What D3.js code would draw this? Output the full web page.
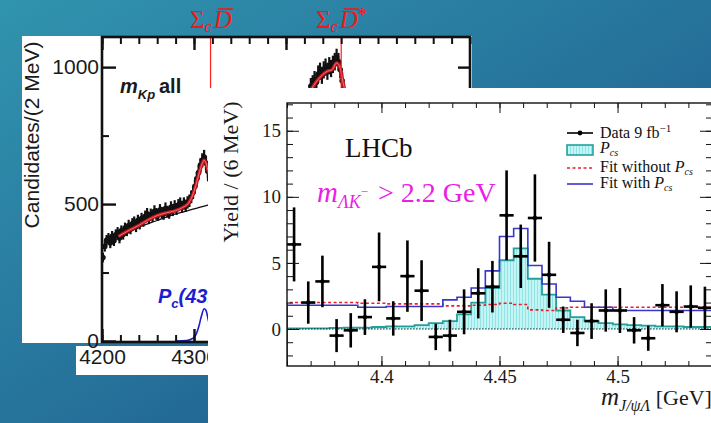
<!DOCTYPE html>
<html>
<head>
<meta charset="utf-8">
<script src="https://cdn.jsdelivr.net/npm/d3@7"></script>
<style>
  body { margin: 0; overflow: hidden; }
  svg { display: block; }
</style>
</head>
<body>
<div id="vis"></div>
<script>
var width = 711
var height = 423

// ---- back figure: m_Kp spectrum, 2 MeV bins ----
var kpMass = d3.range(4201, 4320, 2)
var kpCounts = [305, 345, 368, 375, 358, 382, 366, 388, 396, 376,
                402, 390, 412, 403, 422, 410, 428, 434, 418, 440,
                428, 447, 438, 455, 464, 448, 462, 456, 474, 464,
                460, 478, 468, 464, 484, 472, 468, 488, 478, 492,
                482, 496, 502, 490, 502, 494, 506, 512, 526, 542,
                565, 592, 615, 642, 660, 672, 650, 620, 590, 560]
var kpPeakMass = [4427, 4429, 4431, 4433, 4435, 4437, 4439, 4441, 4443, 4445,
                  4447, 4449, 4451, 4453, 4455, 4457, 4459, 4461, 4463]
var kpPeakCounts = [930, 940, 955, 945, 975, 985, 970, 990, 1000, 985,
                    1005, 995, 1010, 1020, 1035, 1020, 990, 950, 900]
var kpFitMass = [4218, 4230, 4240, 4250, 4260, 4270, 4280, 4288, 4294, 4298, 4302, 4306, 4309, 4311, 4313, 4316, 4320,
                 4340, 4380, 4410, 4425, 4435, 4445, 4450, 4455, 4458, 4462, 4466]
var kpFitVals = [382, 405, 422, 442, 458, 468, 476, 488, 503, 528, 568, 618, 648, 660, 650, 615, 590,
                 600, 680, 800, 905, 955, 985, 990, 1015, 1005, 945, 880]
var kpBkgMass = [4218, 4240, 4260, 4280, 4300, 4315, 4330]
var kpBkgVals = [374, 415, 440, 464, 482, 496, 508]
var pc4312Mass = [4280, 4292, 4298, 4302, 4305, 4308, 4311, 4313, 4316, 4320, 4326]
var pc4312Vals = [0, 2, 8, 22, 50, 90, 118, 112, 70, 25, 5]
var thresholdMass = [4318, 4460]
var kpYTicks = [0, 500, 1000]
var kpXTicks = [4200, 4300, 4400]

// ---- front figure: m_J/psi Lambda, 6 MeV bins ----
var binStart = 4.36
var binWidth = 0.006
var yieldVals = [6.4, 2.0, 3.6, -0.5, -0.1, 0.9, 4.7, 0.8, 4.0, 2.9,
                 -0.6, -0.5, 1.3, 2.7, 3.2, 8.6, 5.5, 8.4, 4.1, 0.7,
                 -0.3, 0.6, 1.4, 1.4, -0.1, -0.7, 1.8, 1.3, 1.7, 1.6]
var yieldErr = [2.8, 1.6, 1.95, 1.25, 1.3, 1.35, 2.6, 1.3, 2.7, 2.3,
                1.0, 1.2, 1.7, 1.9, 1.95, 3.4, 2.4, 3.3, 2.5, 1.0,
                1.0, 1.35, 1.6, 1.7, 1.0, 0.95, 1.6, 1.55, 1.6, 1.6]
var pcsHist = [0.05, 0.05, 0.05, 0.08, 0.1, 0.1, 0.15, 0.2, 0.2, 0.3,
               0.45, 0.6, 1.1, 2.0, 3.1, 5.2, 6.1, 3.8, 2.6, 1.4,
               0.9, 0.6, 0.45, 0.35, 0.3, 0.25, 0.2, 0.2, 0.15, 0.15]
var fitWith = [1.8, 1.8, 1.8, 1.8, 1.8, 1.65, 1.65, 1.7, 1.7, 1.7,
               1.7, 2.2, 2.4, 3.1, 4.4, 7.0, 7.6, 4.8, 3.4, 2.4,
               2.1, 1.65, 1.65, 1.4, 1.4, 1.4, 1.4, 1.4, 1.4, 1.4]
var fitWithout = [2.0, 2.0, 2.0, 2.0, 2.0, 1.95, 1.95, 1.9, 1.9, 1.9,
                  1.9, 1.75, 1.75, 1.8, 1.85, 1.95, 1.85, 1.45, 1.4, 1.6,
                  1.65, 1.65, 1.65, 1.65, 1.65, 1.65, 1.65, 1.65, 1.65, 1.65]
var gevTicks = [4.4, 4.45, 4.5]
var yieldTicks = [0, 5, 10, 15]

var sans = "'Liberation Sans', Arial, sans-serif"
var serif = "'Liberation Serif', 'Times New Roman', serif"

var svg = d3.select("#vis").append("svg")
  .attr("width", width)
  .attr("height", height)

var defs = svg.append("defs")
var bg = defs.append("linearGradient").attr("id", "bg")
  .attr("x1", 0).attr("y1", 0).attr("x2", 1).attr("y2", 1)
bg.append("stop").attr("offset", 0).attr("stop-color", "#3194ae")
bg.append("stop").attr("offset", 0.55).attr("stop-color", "#25709a")
bg.append("stop").attr("offset", 1).attr("stop-color", "#1a4c84")

var hatch = defs.append("pattern").attr("id", "hatch")
  .attr("patternUnits", "userSpaceOnUse").attr("width", 3).attr("height", 4)
hatch.append("rect").attr("width", 3).attr("height", 4).attr("fill", "#c4f5f5")
hatch.append("rect").attr("width", 1).attr("height", 4).attr("fill", "#92e4e6")

svg.append("rect").attr("width", width).attr("height", height).attr("fill", "url(#bg)")

//================ back figure ================
var xA = d3.scaleLinear().domain([4200, 4600]).range([102, 470])
var yA = d3.scaleLinear().domain([0, 1110]).range([341, 37])

var gA = svg.append("g")
gA.append("rect").attr("x", 22).attr("y", 36).attr("width", 450).attr("height", 307).attr("fill", "white")
gA.append("rect").attr("x", 76).attr("y", 346).attr("width", 132).attr("height", 29).attr("fill", "white")

defs.append("clipPath").attr("id", "clipA").append("rect")
  .attr("x", 102).attr("y", 37).attr("width", 368).attr("height", 305)
var plotA = gA.append("g").attr("clip-path", "url(#clipA)")

// Pc(4312) component
plotA.append("path")
  .datum(d3.zip(pc4312Mass, pc4312Vals))
  .attr("d", d3.line().x(d => xA(d[0])).y(d => yA(d[1])).curve(d3.curveMonotoneX))
  .attr("fill", "none").attr("stroke", "#1c1cd0").attr("stroke-width", 1.6)

// data points
var kpAll = d3.zip(kpMass, kpCounts).concat(d3.zip(kpPeakMass, kpPeakCounts))
var pts = plotA.append("g").selectAll("g").data(kpAll).enter().append("g")
pts.append("line")
  .attr("x1", d => xA(d[0])).attr("x2", d => xA(d[0]))
  .attr("y1", d => yA(d[1] + Math.sqrt(d[1]))).attr("y2", d => yA(d[1] - Math.sqrt(d[1])))
  .attr("stroke", "#111").attr("stroke-width", 2.2)
pts.append("circle")
  .attr("cx", d => xA(d[0])).attr("cy", d => yA(d[1])).attr("r", 2.8).attr("fill", "#111")

// background and total fit
plotA.append("path")
  .datum(d3.zip(kpBkgMass, kpBkgVals))
  .attr("d", d3.line().x(d => xA(d[0])).y(d => yA(d[1])).curve(d3.curveMonotoneX))
  .attr("fill", "none").attr("stroke", "#111").attr("stroke-width", 1.3)
var fitLine = d3.line().x(d => xA(d[0])).y(d => yA(d[1])).curve(d3.curveMonotoneX)
plotA.append("path")
  .datum(d3.zip(kpFitMass, kpFitVals))
  .attr("d", fitLine)
  .attr("fill", "none").attr("stroke", "#c8141e").attr("stroke-width", 3.4)
plotA.append("path")
  .datum(d3.zip(kpFitMass, kpFitVals))
  .attr("d", fitLine)
  .attr("fill", "none").attr("stroke", "#f08a8a").attr("stroke-width", 0.8)

// thresholds
gA.selectAll(".thr").data(thresholdMass).enter().append("line")
  .attr("x1", d => xA(d)).attr("x2", d => xA(d))
  .attr("y1", 38).attr("y2", 342)
  .attr("stroke", "#ff2020").attr("stroke-width", 1.2)

// axes (inward ticks)
function styleAxis(g, font, size) {
  g.select(".domain").remove()
  g.selectAll("line").attr("stroke", "#111")
  g.selectAll("text").style("font-family", font).style("font-size", size + "px").attr("fill", "#1a1a1a")
}
gA.append("g").attr("transform", "translate(0,37)")
  .call(d3.axisTop(xA).tickValues(d3.range(4200, 4601, 20)).tickSize(-7).tickFormat(""))
  .call(g => styleAxis(g, sans, 20)).selectAll("line").attr("stroke-width", 2)
gA.append("g").attr("transform", "translate(0,37)")
  .call(d3.axisTop(xA).tickValues(kpXTicks).tickSize(-13).tickFormat(""))
  .call(g => styleAxis(g, sans, 20)).selectAll("line").attr("stroke-width", 2.4)
gA.append("g").attr("transform", "translate(0,342)")
  .call(d3.axisBottom(xA).tickValues(d3.range(4200, 4601, 20)).tickSize(-7).tickFormat(""))
  .call(g => styleAxis(g, sans, 20)).selectAll("line").attr("stroke-width", 2)
gA.append("g").attr("transform", "translate(0,342)")
  .call(d3.axisBottom(xA).tickValues(kpXTicks).tickSize(-13).tickPadding(7).tickFormat(d3.format("d")))
  .call(g => styleAxis(g, sans, 21)).selectAll("line").attr("stroke-width", 2.4)
gA.append("g").attr("transform", "translate(102,0)")
  .call(d3.axisLeft(yA).tickValues([250, 750]).tickSize(-7).tickFormat(""))
  .call(g => styleAxis(g, sans, 20)).selectAll("line").attr("stroke-width", 2)
gA.append("g").attr("transform", "translate(102,0)")
  .call(d3.axisLeft(yA).tickValues(kpYTicks).tickSize(-14).tickPadding(3).tickFormat(d3.format("d")))
  .call(g => styleAxis(g, sans, 21)).selectAll("line").attr("stroke-width", 2.4)
gA.append("g").attr("transform", "translate(470,0)")
  .call(d3.axisRight(yA).tickValues(kpYTicks).tickSize(-12).tickFormat(""))
  .call(g => styleAxis(g, sans, 20)).selectAll("line").attr("stroke-width", 2.4)

gA.append("rect").attr("x", 102).attr("y", 37).attr("width", 368).attr("height", 305)
  .attr("fill", "none").attr("stroke", "#111").attr("stroke-width", 2.6)

gA.append("text")
  .attr("transform", "translate(39,135) rotate(-90)")
  .attr("text-anchor", "middle")
  .style("font-family", sans).style("font-size", "21px").attr("fill", "#1a1a1a")
  .text("Candidates/(2 MeV)")

var mkp = gA.append("text").attr("x", 120).attr("y", 93)
  .style("font-family", sans).style("font-weight", "bold").style("font-size", "20px").attr("fill", "#1a1a1a")
mkp.append("tspan").style("font-style", "italic").text("m")
mkp.append("tspan").style("font-style", "italic").style("font-size", "13px").attr("dy", 6).text("Kp")
mkp.append("tspan").attr("x", 159).attr("dy", -6).text("all")

var pcT = gA.append("text").attr("x", 158).attr("y", 303)
  .style("font-family", sans).style("font-weight", "bold").style("font-style", "italic")
  .style("font-size", "20px").attr("fill", "#1c1cd0")
pcT.append("tspan").text("P")
pcT.append("tspan").style("font-size", "13px").attr("dy", 5).text("c")
pcT.append("tspan").attr("dy", -5).text("(4312)")

// threshold labels
function thrLabel(x, star) {
  var t = svg.append("text").attr("x", x).attr("y", 28)
    .style("font-family", serif).style("font-size", "25px").attr("fill", "#f01818")
  t.append("tspan").text("Σ")
  t.append("tspan").style("font-style", "italic").style("font-size", "16px").attr("dy", 4).text("c")
  var d = t.append("tspan").style("font-style", "italic").attr("dx", 2).attr("dy", -4).text("D")
  if (star) t.append("tspan").style("font-size", "18px").attr("dy", -7).text("*")
  var n = d.node()
  var start = n.getStartPositionOfChar(0), end = n.getEndPositionOfChar(0)
  svg.append("line").attr("x1", start.x + 4).attr("x2", end.x + 1)
    .attr("y1", 9).attr("y2", 9).attr("stroke", "#f01818").attr("stroke-width", 1.6)
}
thrLabel(190, false)
thrLabel(316, true)

//================ front figure ================
var xB = d3.scaleLinear().domain([4.36, 4.54]).range([287, 712])
var yB = d3.scaleLinear().domain([-2.8, 17.1]).range([366, 103])

var gB = svg.append("g")
gB.append("rect").attr("x", 208).attr("y", 88).attr("width", 503).attr("height", 335).attr("fill", "white")

defs.append("clipPath").attr("id", "clipB").append("rect")
  .attr("x", 287).attr("y", 103).attr("width", 425).attr("height", 263)
var plotB = gB.append("g").attr("clip-path", "url(#clipB)")

function edges(vals) {
  var pts = vals.map((v, i) => [binStart + i * binWidth, v])
  pts.push([binStart + vals.length * binWidth, vals[vals.length - 1]])
  return pts
}

plotB.append("path")
  .datum(edges(pcsHist))
  .attr("d", d3.area().x(d => xB(d[0])).y0(yB(0)).y1(d => yB(d[1])).curve(d3.curveStepAfter))
  .attr("fill", "url(#hatch)")

var step = d3.line().x(d => xB(d[0])).y(d => yB(d[1])).curve(d3.curveStepAfter)
function histPath(vals) {
  return [[binStart, -2.8]].concat(edges(vals))
}
plotB.append("path").datum(histPath(pcsHist)).attr("d", step)
  .attr("fill", "none").attr("stroke", "#24a09c").attr("stroke-width", 1.8)

plotB.append("line")
  .attr("x1", xB(4.36)).attr("x2", xB(4.54)).attr("y1", yB(0)).attr("y2", yB(0))
  .attr("stroke", "#222").attr("stroke-width", 1).attr("stroke-dasharray", "1.5,1.5")

plotB.append("path").datum(histPath(fitWithout)).attr("d", step)
  .attr("fill", "none").attr("stroke", "#e8202a").attr("stroke-width", 1.6).attr("stroke-dasharray", "3,2.5")
plotB.append("path").datum(histPath(fitWith)).attr("d", step)
  .attr("fill", "none").attr("stroke", "#3a36cc").attr("stroke-width", 1.6)

var dataB = yieldVals.map((v, i) => ({ m: binStart + (i + 0.5) * binWidth, v: v, e: yieldErr[i] }))
var ptB = plotB.append("g").selectAll("g").data(dataB).enter().append("g")
ptB.append("line")
  .attr("x1", d => xB(d.m)).attr("x2", d => xB(d.m))
  .attr("y1", d => yB(d.v + d.e)).attr("y2", d => yB(d.v - d.e))
  .attr("stroke", "#000").attr("stroke-width", 2.6)
ptB.append("line")
  .attr("x1", d => xB(d.m - binWidth / 2)).attr("x2", d => xB(d.m + binWidth / 2))
  .attr("y1", d => yB(d.v)).attr("y2", d => yB(d.v))
  .attr("stroke", "#000").attr("stroke-width", 2.6)
ptB.append("circle").attr("cx", d => xB(d.m)).attr("cy", d => yB(d.v)).attr("r", 2.2).attr("fill", "#000")

// axes
var minorX = d3.range(4.36, 4.545, 0.01)
var minorY = d3.range(-2, 17.5, 1)
gB.append("g").attr("transform", "translate(0,366)")
  .call(d3.axisBottom(xB).tickValues(minorX).tickSize(-5).tickFormat(""))
  .call(g => styleAxis(g, serif, 19))
gB.append("g").attr("transform", "translate(0,366)")
  .call(d3.axisBottom(xB).tickValues(gevTicks).tickSize(-10).tickPadding(3).tickFormat(d3.format("")))
  .call(g => styleAxis(g, serif, 19))
gB.append("g").attr("transform", "translate(0,103)")
  .call(d3.axisTop(xB).tickValues(minorX).tickSize(-5).tickFormat(""))
  .call(g => styleAxis(g, serif, 19))
gB.append("g").attr("transform", "translate(0,103)")
  .call(d3.axisTop(xB).tickValues(gevTicks).tickSize(-10).tickFormat(""))
  .call(g => styleAxis(g, serif, 19))
gB.append("g").attr("transform", "translate(287,0)")
  .call(d3.axisLeft(yB).tickValues(minorY).tickSize(-6).tickFormat(""))
  .call(g => styleAxis(g, serif, 19))
gB.append("g").attr("transform", "translate(287,0)")
  .call(d3.axisLeft(yB).tickValues(yieldTicks).tickSize(-12).tickPadding(6).tickFormat(d3.format("d")))
  .call(g => styleAxis(g, serif, 19))
gB.append("g").attr("transform", "translate(712,0)")
  .call(d3.axisRight(yB).tickValues(minorY).tickSize(-6).tickFormat(""))
  .call(g => styleAxis(g, serif, 19))
gB.append("g").attr("transform", "translate(712,0)")
  .call(d3.axisRight(yB).tickValues(yieldTicks).tickSize(-12).tickFormat(""))
  .call(g => styleAxis(g, serif, 19))

gB.append("rect").attr("x", 287).attr("y", 103).attr("width", 425).attr("height", 263)
  .attr("fill", "none").attr("stroke", "#111").attr("stroke-width", 1.4)

gB.append("text")
  .attr("transform", "translate(238,172) rotate(-90)")
  .attr("text-anchor", "middle")
  .style("font-family", serif).style("font-size", "22px").attr("fill", "#1a1a1a")
  .text("Yield / (6 MeV)")

var xl = gB.append("text").attr("x", 601).attr("y", 405)
  .style("font-family", serif).style("font-size", "25px").attr("fill", "#1a1a1a")
xl.append("tspan").style("font-style", "italic").text("m")
xl.append("tspan").style("font-style", "italic").style("font-size", "16px").attr("dy", 6).text("J/ψΛ")
xl.append("tspan").style("font-size", "22px").attr("dy", -6).text(" [GeV]")

gB.append("text").attr("x", 345).attr("y", 157)
  .style("font-family", serif).style("font-size", "27px").attr("fill", "#111")
  .text("LHCb")

var cut = gB.append("text").attr("x", 317).attr("y", 202)
  .style("font-family", serif).style("font-size", "29px").attr("fill", "#ea1ee6")
cut.append("tspan").style("font-style", "italic").text("m")
cut.append("tspan").style("font-style", "italic").style("font-size", "18px").attr("dy", 6).text("ΛK")
cut.append("tspan").style("font-size", "13px").attr("dy", -12).text("−")
cut.append("tspan").attr("x", 378).attr("dy", 6).style("font-size", "28px").text("> 2.2 GeV")

// legend
var lg = gB.append("g").style("font-family", serif).style("font-size", "16px").attr("fill", "#111")
var lx0 = 567, lx1 = 593, tx = 600
lg.append("line").attr("x1", lx0).attr("x2", lx1).attr("y1", 133).attr("y2", 133).attr("stroke", "#000").attr("stroke-width", 1.6)
lg.append("circle").attr("cx", (lx0 + lx1) / 2).attr("cy", 133).attr("r", 2.4).attr("fill", "#000")
var t1 = lg.append("text").attr("x", tx).attr("y", 138)
t1.append("tspan").text("Data 9 fb")
t1.append("tspan").style("font-size", "11px").attr("dy", -6).text("−1")
lg.append("rect").attr("x", lx0).attr("y", 145).attr("width", lx1 - lx0).attr("height", 10)
  .attr("fill", "url(#hatch)").attr("stroke", "#24a09c").attr("stroke-width", 1.6)
var t2 = lg.append("text").attr("x", tx).attr("y", 153).style("font-style", "italic")
t2.append("tspan").text("P")
t2.append("tspan").style("font-size", "10px").attr("dy", 3).text("cs")
lg.append("line").attr("x1", lx0).attr("x2", lx1).attr("y1", 168).attr("y2", 168)
  .attr("stroke", "#e8202a").attr("stroke-width", 1.6).attr("stroke-dasharray", "3,2.5")
var t3 = lg.append("text").attr("x", tx).attr("y", 172)
t3.append("tspan").text("Fit without ")
t3.append("tspan").style("font-style", "italic").text("P")
t3.append("tspan").style("font-style", "italic").style("font-size", "10px").attr("dy", 3).text("cs")
lg.append("line").attr("x1", lx0).attr("x2", lx1).attr("y1", 184).attr("y2", 184)
  .attr("stroke", "#3a36cc").attr("stroke-width", 1.6)
var t4 = lg.append("text").attr("x", tx).attr("y", 188)
t4.append("tspan").text("Fit with ")
t4.append("tspan").style("font-style", "italic").text("P")
t4.append("tspan").style("font-style", "italic").style("font-size", "10px").attr("dy", 3).text("cs")
</script>
</body>
</html>
